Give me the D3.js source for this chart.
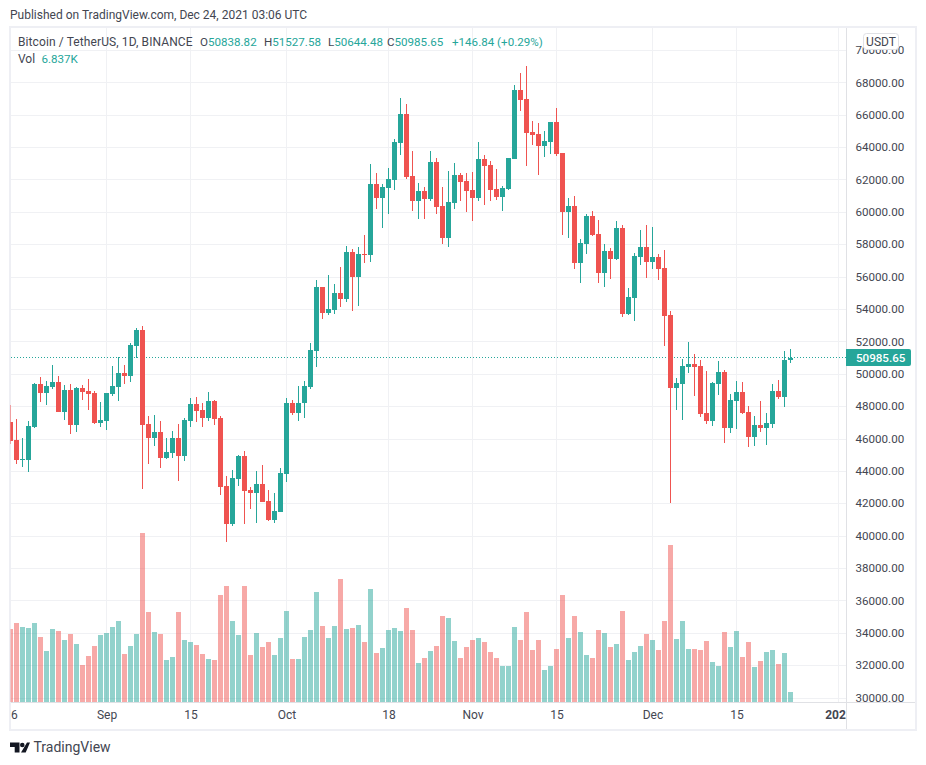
<!DOCTYPE html>
<html lang="en">
<head>
  <meta charset="UTF-8">
  <title>Bitcoin / TetherUS, 1D, BINANCE</title>
  <style>
    html, body { margin: 0; padding: 0; background: #fff; }
    svg { display: block; }
    text { font-family: Roboto, "Open Sans", sans-serif; font-size: 12px; fill: #434651; }
    .num, .num text { font-size: 11.6px; }
  </style>
</head>
<body>
<svg width="926" height="765"></svg>

<script src="https://cdn.jsdelivr.net/npm/d3@7"></script>
<script>
  // daily candles, Aug 16 2021 to Dec 24 2021
  var opens = [
    47021,45909,44674,44674,46712,49369,48813,49183,49492,47639,48998,46836,49121,48936,48813,46959,
    47083,48751,49183,50048,49863,51716,52704,46898,46033,46404,44798,45106,46033,44921,47083,48133,47762,47268,48318,47268,43068,40721,43500,44921,42821,42636,43192,42141,40968,41462,
    43809,48195,47577,48195,49184,51408,55360,53754,53939,54990,54619,57522,55978,57399,57337,61723,60858,61475,61970,64255,66046,62217,60672,61290,60796,63081,60364,58387,60549,62278,61908,
    61352,60858,63267,62896,61414,60920,61414,63267,67529,66973,64935,64811,64070,64317,65552,63637,59993,60364,56843,58016,59746,58634,56225,57584,57090,59005,53692,54681,57213,57831,
    56904,57213,56533,53630,49121,49368,50418,50604,50480,47577,47083,49368,50109,46650,48318,48874,47639,46094,46836,46650,46897,48936,48565,50838.82
  ];
  var highs = [
    48071,47207,46033,47083,49430,49801,49554,50542,49863,49307,49369,49183,49307,49677,48936,48257,
    48813,50480,51036,50542,51901,52828,52951,47392,47454,47083,46033,46465,46898,47268,48504,48566,48195,48874,48380,47392,43686,44056,44983,45230,43006,43995,44365,42821,42636,44180,
    48504,48380,49245,49555,51902,55793,55360,56101,55546,56596,57893,57707,57831,58572,62958,62402,61723,62711,64502,67035,66664,63761,61784,61537,63761,63329,61537,62526,63020,62402,62402,
    62464,64317,63514,63143,62649,61599,63329,67838,68579,69011,65614,65490,64996,65552,66417,63637,60858,60981,58325,59869,60055,59499,58016,57769,59437,59190,55298,57460,58881,59190,
    59066,57399,57645,53877,49739,50912,51962,51221,50851,50171,49492,50789,50233,48750,49553,49492,48009,47391,48318,47577,49368,49615,51407,51527.58
  ];
  var lows = [
    45662,44427,44242,43933,46651,48257,48071,49060,47639,47145,46280,46404,48380,47762,46898,46712,
    46527,48627,48318,49369,49492,50975,42883,44427,45539,44180,44736,44798,43377,44612,46712,47021,46712,47083,46836,42512,39609,40597,43068,40721,41647,40782,42080,40906,40782,41462,
    43315,47454,47083,47250,49060,50419,53384,53631,53692,54125,54434,53878,54187,56843,56904,60178,59005,59869,61352,63514,62031,60055,59561,59561,60672,59869,58016,57831,60178,60672,59993,
    59437,60672,60425,60672,60734,60055,61352,63267,66232,62834,64132,62278,63390,63576,63452,58572,58387,56472,55607,57399,58510,55607,55360,55854,57028,53507,53631,53260,56719,55916,
    56472,55793,51715,42017,47762,47144,50048,48627,47330,46897,46774,48689,45724,46341,46588,47515,45477,45538,46403,45600,46650,48442,47947,50644.48
  ];
  var closes = [
    45848,44674,44736,46774,49369,48813,49245,49492,47639,48998,46836,49121,48874,48751,46959,47145,
    48813,49245,50048,49863,51778,52704,46836,46033,46404,44798,45168,46033,44921,47145,48133,47701,47268,48318,47207,43006,40721,43562,44921,42759,42636,43192,42080,40968,41524,43871,
    48195,47577,48195,49246,51469,55361,53754,54001,54990,54619,57522,55978,57399,57337,61723,60858,61537,62031,64317,66046,62155,60672,61290,60796,63081,60302,58387,60611,62278,61846,61290,
    60858,63267,62834,61352,60920,61475,63329,67529,66911,64873,64749,64070,64379,65552,63576,59993,60364,56843,58078,59746,58572,56225,57584,57090,59005,53692,54743,57275,57831,56904,
    57213,56472,53568,49121,49430,50480,50604,50418,47515,47083,49430,50109,46650,48380,48874,47577,46094,46836,46650,46959,48936,48565,50851,50985.65
  ];
  // volume in thousands of BTC
  var volumes = [
    49.9,54.0,51.3,50.6,54.0,44.5,34.9,49.9,48.6,42.4,46.5,39.7,25.3,31.5,38.3,45.8,
    47.2,51.3,55.4,32.8,38.3,46.5,115.6,61.6,47.9,46.5,28.7,30.8,61.6,42.4,41.0,39.0,32.8,29.4,28.7,73.2,79.3,55.4,45.8,79.3,32.1,47.2,37.6,41.0,32.1,43.8,
    62.2,29.4,29.4,44.5,49.2,75.2,52.0,43.8,52.0,84.1,49.9,50.6,52.7,41.0,77.3,33.5,36.9,49.2,50.6,48.6,64.3,49.2,26.7,30.1,34.9,38.3,58.8,57.5,41.7,30.1,37.6,
    42.4,43.8,41.0,34.2,30.1,24.6,24.6,51.3,42.4,61.6,35.6,42.4,21.9,24.6,36.3,73.2,43.8,58.8,47.9,32.1,30.1,49.2,47.2,37.6,39.7,62.2,28.7,34.2,38.3,46.5,
    42.4,35.6,55.4,107.4,43.1,55.4,36.3,36.3,35.6,41.7,27.4,24.6,47.9,37.6,48.6,30.8,41.0,23.9,28.0,34.2,35.6,26.0,33.5,6.837
  ];
  var priceTicks = [30000,32000,34000,36000,38000,40000,42000,44000,46000,48000,50000,52000,54000,56000,58000,60000,62000,64000,66000,68000,70000];
  var timeTicks = [[2021,7,16,"16"],[2021,8,1,"Sep"],[2021,8,15,"15"],[2021,9,1,"Oct"],[2021,9,18,"18"],[2021,10,1,"Nov"],[2021,10,15,"15"],[2021,11,1,"Dec"],[2021,11,15,"15"],[2022,0,1,"2022"]];

  var up = '#26a69a', down = '#ef5350', gridColor = '#f0f1f4', lineColor = '#e0e1e5';
  var plot = {left: 10, top: 28, right: 846, bottom: 702};

  var svg = d3.select('svg');
  var dates = d3.utcDay.range(new Date(Date.UTC(2021, 7, 16)), new Date(Date.UTC(2021, 11, 25)));
  var tickDates = timeTicks.map(function (d) { return new Date(Date.UTC(d[0], d[1], d[2])); });

  var x = d3.scaleUtc().domain([new Date(Date.UTC(2021, 8, 1)), new Date(Date.UTC(2022, 0, 1))]).range([106.5, 838.5]);
  var y = d3.scaleLinear().domain([30000, 70000]).range([697.5, 50]);
  var vol = d3.scaleLinear().domain([0, 120]).range([702, 526.5]);

  var defs = svg.append('defs');
  defs.append('clipPath').attr('id', 'plotClip').append('rect')
          .attr('x', plot.left + 0.5).attr('y', plot.top).attr('width', plot.right - plot.left - 0.5).attr('height', plot.bottom - plot.top);
  defs.append('clipPath').attr('id', 'timeClip').append('rect')
          .attr('x', plot.left + 0.5).attr('y', plot.bottom).attr('width', plot.right - plot.left - 0.5).attr('height', 28);
  defs.append('clipPath').attr('id', 'priceClip').append('rect')
          .attr('x', plot.right).attr('y', plot.top).attr('width', 70).attr('height', plot.bottom - plot.top);

  //header
  svg.append('text').attr('x', 10).attr('y', 19).text('Published on TradingView.com, Dec 24, 2021 03:06 UTC');

  //grid
  var grid = svg.append('g').attr('shape-rendering', 'crispEdges').attr('stroke', gridColor);
  grid.selectAll('.h').data(priceTicks).enter().append('line')
          .attr('x1', plot.left).attr('x2', plot.right)
          .attr('y1', function (d) { return Math.round(y(d)) + 0.5; })
          .attr('y2', function (d) { return Math.round(y(d)) + 0.5; });
  grid.selectAll('.v').data(tickDates.slice(1)).enter().append('line')
          .attr('y1', plot.top).attr('y2', plot.bottom)
          .attr('x1', function (d) { return x(d); })
          .attr('x2', function (d) { return x(d); });

  //outer frame and separators
  svg.append('rect').attr('x', 10).attr('y', 27).attr('width', 906).attr('height', 703)
          .attr('fill', 'none').attr('stroke', '#eeeff4').attr('stroke-width', 2);
  svg.append('line').attr('x1', 846.5).attr('x2', 846.5).attr('y1', 28).attr('y2', 729).attr('stroke', lineColor);
  svg.append('line').attr('x1', 11).attr('x2', 915).attr('y1', 702.5).attr('y2', 702.5).attr('stroke', lineColor);

  //last price line
  var last = closes.length - 1;
  var lastColor = closes[last] >= opens[last] ? up : down;
  svg.append('line').attr('x1', 11).attr('x2', plot.right)
          .attr('y1', Math.floor(y(closes[last])) + 0.5).attr('y2', Math.floor(y(closes[last])) + 0.5)
          .attr('stroke', lastColor).attr('stroke-dasharray', '1 2');

  var chart = svg.append('g').attr('clip-path', 'url(#plotClip)').attr('shape-rendering', 'crispEdges');

  //volume
  chart.append('g').selectAll('rect').data(dates).enter().append('rect')
          .attr('x', function (d) { return x(d) - 2.5; })
          .attr('width', 5)
          .attr('y', function (d, i) { return Math.round(vol(volumes[i])); })
          .attr('height', function (d, i) { return vol(0) - Math.round(vol(volumes[i])); })
          .attr('fill', function (d, i) { return closes[i] >= opens[i] ? up : down; })
          .attr('fill-opacity', 0.5);

  //wicks
  chart.append('g').selectAll('rect').data(dates).enter().append('rect')
          .attr('x', function (d) { return x(d) - 0.5; })
          .attr('width', 1)
          .attr('y', function (d, i) { return Math.round(y(highs[i])); })
          .attr('height', function (d, i) { return Math.round(y(lows[i])) - Math.round(y(highs[i])); })
          .attr('fill', function (d, i) { return closes[i] >= opens[i] ? up : down; });

  //bodies
  chart.append('g').selectAll('rect').data(dates).enter().append('rect')
          .attr('x', function (d) { return x(d) - 2.5; })
          .attr('width', 5)
          .attr('y', function (d, i) { return Math.round(y(Math.max(opens[i], closes[i]))); })
          .attr('height', function (d, i) {
            return Math.max(1, Math.round(y(Math.min(opens[i], closes[i]))) - Math.round(y(Math.max(opens[i], closes[i]))));
          })
          .attr('fill', function (d, i) { return closes[i] >= opens[i] ? up : down; });

  //price axis
  var priceAxis = svg.append('g').attr('clip-path', 'url(#priceClip)').append('g')
          .attr('class', 'num')
          .attr('transform', 'translate(' + plot.right + ',0)')
          .call(d3.axisRight(y).tickValues(priceTicks).tickSize(0).tickPadding(9.5).tickFormat(d3.format('.2f')));
  priceAxis.select('.domain').remove();
  priceAxis.selectAll('text').attr('font-family', null).attr('font-size', null);

  //time axis
  var timeAxis = svg.append('g').attr('clip-path', 'url(#timeClip)').append('g')
          .attr('transform', 'translate(0,' + plot.bottom + ')')
          .call(d3.axisBottom(x).tickValues(tickDates).tickSize(0).tickPadding(8)
                  .tickFormat(function (d, i) { return timeTicks[i][3]; }));
  timeAxis.select('.domain').remove();
  timeAxis.selectAll('text').attr('font-family', null).attr('font-size', null)
          .style('font-weight', function (d, i) { return timeTicks[i][3] === '2022' ? 700 : 400; });

  //USDT button
  svg.append('rect').attr('x', 863.5).attr('y', 33.5).attr('width', 35).attr('height', 16).attr('rx', 3)
          .attr('fill', '#fff').attr('stroke', lineColor);
  svg.append('text').attr('x', 881).attr('y', 46).attr('text-anchor', 'middle').text('USDT');

  //last price label
  svg.append('path').attr('d', 'M846 349h63q2 0 2 2v13q0 2-2 2h-63z').attr('fill', lastColor);
  svg.append('text').attr('class', 'num').attr('x', 856).attr('y', 362).style('fill', '#fff').style('font-weight', 500)
          .text(d3.format('.2f')(closes[last]));

  //legend
  var fmt = d3.format('.2f');
  svg.append('text').attr('x', 18).attr('y', 46).attr('letter-spacing', 0.1).text('Bitcoin / TetherUS, 1D, BINANCE');
  [['O', opens[last], 200], ['H', highs[last], 264], ['L', lows[last], 328], ['C', closes[last], 387]].forEach(function (d) {
    var t = svg.append('text').attr('class', 'num').attr('x', d[2]).attr('y', 46).text(d[0]);
    t.append('tspan').style('fill', lastColor).text(fmt(d[1]));
  });
  svg.append('text').attr('class', 'num').attr('x', 452).attr('y', 46).style('fill', lastColor).text('+146.84 (+0.29%)');
  svg.append('text').attr('x', 18).attr('y', 63).text('Vol');
  svg.append('text').attr('class', 'num').attr('x', 41.5).attr('y', 63).style('fill', lastColor).text('6.837K');

  //logo
  svg.append('path').attr('fill', '#131722')
          .attr('d', 'M10 742.5h9.5v10h-4.8v-5.6h-4.7zM27 742.5h3l-4.3 10h-4.7z');
  svg.append('circle').attr('cx', 22.3).attr('cy', 745).attr('r', 2.3).attr('fill', '#131722');
  svg.append('text').attr('x', 33.5).attr('y', 752).style('font-size', '14px').text('TradingView');
</script>
</body>
</html>
